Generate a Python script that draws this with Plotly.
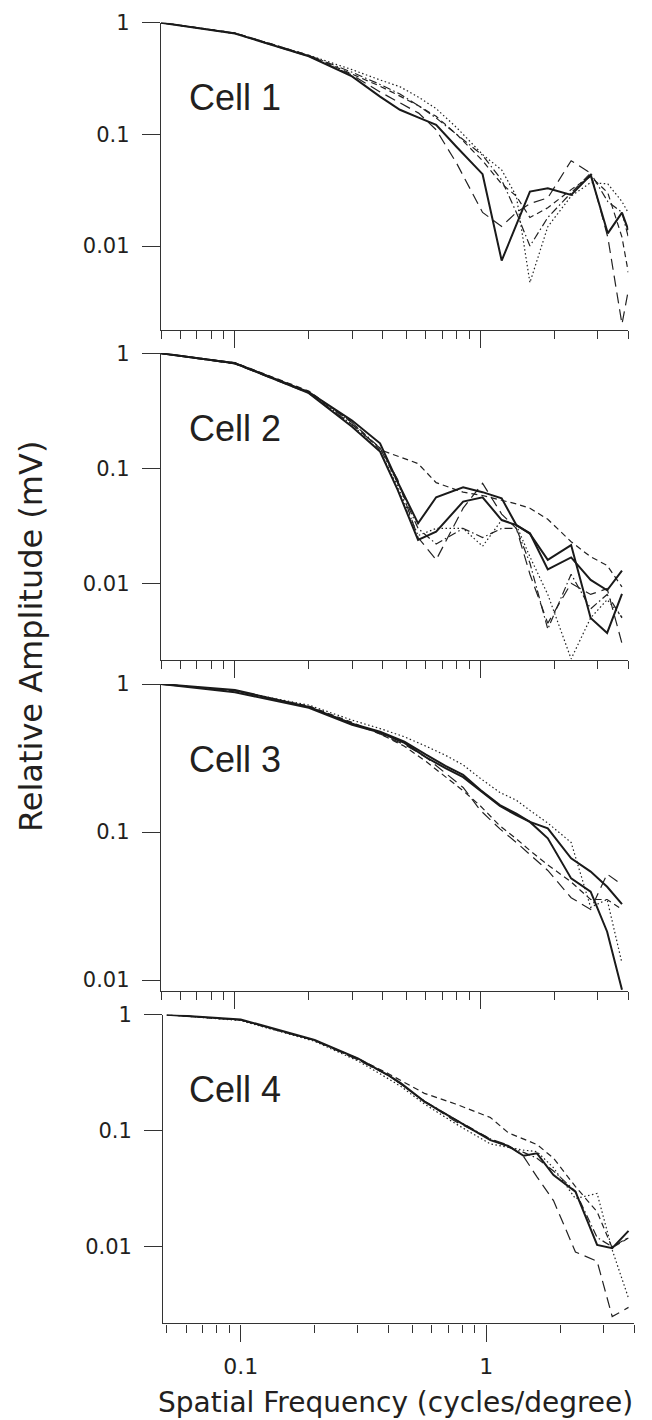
import plotly.graph_objects as go

# ---------------- data ----------------
# Spatial frequencies (cycles/degree) for each cell
freq_cell1 = [0.05, 0.1, 0.2, 0.3, 0.39, 0.47, 0.56, 0.66, 0.8, 1.02, 1.22, 1.4, 1.59, 1.88, 2.34, 2.81, 3.3, 3.77, 4.0]
freq_cell2 = [0.05, 0.1, 0.2, 0.3, 0.39, 0.46, 0.557, 0.66, 0.85, 1.02, 1.22, 1.4, 1.59, 1.88, 2.34, 2.81, 3.28, 3.77]
freq_cell3 = [0.05, 0.1, 0.2, 0.3, 0.39, 0.49, 0.6, 0.72, 0.85, 1.0, 1.2, 1.4, 1.59, 1.88, 2.34, 2.81, 3.28, 3.77]
freq_cell4 = [0.05, 0.1, 0.2, 0.3, 0.4, 0.45, 0.56, 0.75, 1.04, 1.23, 1.42, 1.61, 1.88, 2.31, 2.83, 3.26, 3.8]

# Cell 1 relative amplitudes
c1_solid    = [1, 0.80, 0.50, 0.33, 0.218, 0.166, 0.141, 0.122, 0.077, 0.044, 0.0074, 0.0155, 0.0307, 0.0329, 0.0287, 0.0433, 0.013, 0.0199, 0.0139]
c1_dot      = [1, 0.80, 0.51, 0.38, 0.307, 0.267, 0.215, 0.17, 0.115, 0.066, 0.048, 0.028, 0.0047, 0.0149, 0.028, 0.037, 0.036, 0.025, 0.0198]
c1_longdash = [1, 0.80, 0.50, 0.34, 0.24, 0.19, 0.155, 0.11, 0.055, 0.02, 0.015, 0.02, 0.024, 0.027, 0.058, 0.045, 0.012, 0.002, 0.004]
c1_dash     = [1, 0.81, 0.51, 0.35, 0.27, 0.22, 0.18, 0.145, 0.1, 0.058, 0.036, 0.028, 0.018, 0.022, 0.032, 0.042, 0.03, 0.012, 0.0058]
c1_dashdot  = [1, 0.81, 0.51, 0.36, 0.28, 0.23, 0.18, 0.14, 0.1, 0.065, 0.039, 0.02, 0.01, 0.018, 0.03, 0.045, 0.025, 0.02, 0.012]

# Cell 2
c2_solid_a  = [1, 0.82, 0.46, 0.26, 0.165, 0.076, 0.0332, 0.056, 0.0684, 0.062, 0.0548, 0.0321, 0.0272, 0.0132, 0.0168, 0.0107, 0.0087, 0.0129]
c2_solid_b  = [1, 0.82, 0.45, 0.23, 0.14, 0.065, 0.0238, 0.0281, 0.0513, 0.056, 0.0355, 0.0321, 0.027, 0.016, 0.0215, 0.005, 0.0037, 0.0081]
c2_dot      = [1, 0.82, 0.46, 0.24, 0.14, 0.07, 0.026, 0.030, 0.030, 0.021, 0.0355, 0.032, 0.017, 0.008, 0.0022, 0.005, 0.0072, 0.0051]
c2_dash     = [1, 0.83, 0.47, 0.25, 0.145, 0.128, 0.11, 0.075, 0.062, 0.058, 0.053, 0.049, 0.045, 0.036, 0.023, 0.017, 0.0143, 0.0093]
c2_longdash = [1, 0.81, 0.45, 0.24, 0.15, 0.08, 0.025, 0.016, 0.045, 0.074, 0.04, 0.03, 0.012, 0.0045, 0.01, 0.008, 0.009, 0.003]
c2_dashdot  = [1, 0.82, 0.46, 0.25, 0.15, 0.075, 0.03, 0.022, 0.03, 0.025, 0.03, 0.03, 0.015, 0.004, 0.012, 0.006, 0.008, 0.005]

# Cell 3
c3_solid_a  = [1, 0.91, 0.70, 0.54, 0.476, 0.408, 0.333, 0.28, 0.243, 0.192, 0.152, 0.133, 0.117, 0.106, 0.0664, 0.054, 0.0427, 0.0326]
c3_solid_b  = [1, 0.88, 0.69, 0.53, 0.47, 0.40, 0.32, 0.27, 0.235, 0.19, 0.15, 0.13, 0.117, 0.0906, 0.0486, 0.0395, 0.0212, 0.0086]
c3_dot      = [1, 0.90, 0.72, 0.57, 0.50, 0.44, 0.38, 0.33, 0.284, 0.23, 0.185, 0.164, 0.14, 0.115, 0.085, 0.031, 0.035, 0.013]
c3_dash     = [1, 0.90, 0.71, 0.55, 0.46, 0.38, 0.30, 0.237, 0.19, 0.15, 0.11, 0.09, 0.075, 0.06, 0.046, 0.035, 0.035, 0.03]
c3_longdash = [1, 0.90, 0.70, 0.54, 0.46, 0.39, 0.32, 0.25, 0.20, 0.14, 0.105, 0.085, 0.07, 0.055, 0.036, 0.03, 0.052, 0.044]

# Cell 4
c4_solid    = [1, 0.91, 0.605, 0.42, 0.30, 0.256, 0.178, 0.125, 0.083, 0.0738, 0.0608, 0.0638, 0.0415, 0.0298, 0.01035, 0.0097, 0.0137]
c4_dot      = [1, 0.89, 0.59, 0.40, 0.28, 0.24, 0.17, 0.115, 0.077, 0.072, 0.068, 0.066, 0.048, 0.026, 0.0288, 0.0094, 0.0036]
c4_dash     = [1, 0.90, 0.60, 0.42, 0.31, 0.27, 0.21, 0.17, 0.13, 0.096, 0.085, 0.076, 0.058, 0.033, 0.02, 0.0098, 0.0119]
c4_longdash = [1, 0.90, 0.60, 0.41, 0.30, 0.25, 0.18, 0.12, 0.085, 0.075, 0.06, 0.04, 0.025, 0.009, 0.0075, 0.0025, 0.003]
c4_dashdot  = [1, 0.90, 0.60, 0.41, 0.30, 0.25, 0.18, 0.125, 0.085, 0.072, 0.065, 0.058, 0.045, 0.03, 0.012, 0.01, 0.012]

cell_names = ["Cell 1", "Cell 2", "Cell 3", "Cell 4"]
x_major = [0.1, 1]
x_major_text = ["0.1", "1"]
x_minor = [0.05, 0.06, 0.07, 0.08, 0.09, 0.2, 0.3, 0.4, 0.5, 0.6, 0.7, 0.8, 0.9, 2, 3, 4]
y_ticks = [1, 0.1, 0.01]
y_tick_text = ["1", "0.1", "0.01"]

# ---------------- styling ----------------
W, H = 652, 1420
OFF = 8  # page body margin: shift figure coordinates so the photographed page lines up
INK = "#231f20"
AX = "#333333"
WIDE_FONT = "DejaVu Sans, Liberation Sans, Arial, sans-serif"
LABEL_FONT = "Liberation Sans, Arial, Helvetica, sans-serif"
STY = {
    "solid":    dict(color="#1a1a1a", width=2.0, dash="solid"),
    "dot":      dict(color="#222222", width=1.2, dash="1.5px,2.5px"),
    "dash":     dict(color="#222222", width=1.2, dash="6px,4px"),
    "longdash": dict(color="#222222", width=1.2, dash="11px,6px"),
    "dashdot":  dict(color="#222222", width=1.2, dash="8px,3px,1.5px,3px"),
}


def px(x):
    return (x - OFF) / W


def py(y):
    return 1 - (y - OFF) / H


panels = [
    dict(freq=freq_cell1, series=[("dot", c1_dot), ("dash", c1_dash), ("dashdot", c1_dashdot),
                                  ("longdash", c1_longdash), ("solid", c1_solid)],
         x0=161, x1=628.3, xr=[-1.30103, 0.60206], top=22.7, bot=330, yr=[-2.752, 0]),
    dict(freq=freq_cell2, series=[("dot", c2_dot), ("dash", c2_dash), ("dashdot", c2_dashdot),
                                  ("longdash", c2_longdash), ("solid", c2_solid_a), ("solid", c2_solid_b)],
         x0=161, x1=628.3, xr=[-1.30103, 0.60206], top=353.3, bot=660, yr=[-2.667, 0]),
    dict(freq=freq_cell3, series=[("dot", c3_dot), ("dash", c3_dash), ("longdash", c3_longdash),
                                  ("solid", c3_solid_a), ("solid", c3_solid_b)],
         x0=161, x1=628.3, xr=[-1.30103, 0.60206], top=684, bot=990.7, yr=[-2.072, 0]),
    dict(freq=freq_cell4, series=[("dot", c4_dot), ("dash", c4_dash), ("dashdot", c4_dashdot),
                                  ("longdash", c4_longdash), ("solid", c4_solid)],
         x0=163.3, x1=634, xr=[-1.3153, 0.60206], top=1014.7, bot=1323.3, yr=[-2.66, 0]),
]

fig = go.Figure()
layout = dict(width=W, height=H, margin=dict(l=0, r=0, t=0, b=0),
              paper_bgcolor="white", plot_bgcolor="white", showlegend=False,
              font=dict(family=WIDE_FONT, color=INK))
annotations = []

for i, p in enumerate(panels):
    k = "" if i == 0 else str(i + 1)
    for style, vals in p["series"]:
        fig.add_trace(go.Scatter(x=p["freq"], y=vals, mode="lines", line=STY[style],
                                 xaxis="x" + k, yaxis="y" + k, hoverinfo="skip"))
    last = (i == 3)
    layout["xaxis" + k] = dict(
        type="log", range=p["xr"], domain=[px(p["x0"]), px(p["x1"])], anchor="y" + k,
        automargin=False,
        showline=True, linecolor=AX, linewidth=1.4, showgrid=False, zeroline=False,
        ticks="outside", ticklen=17, tickwidth=1.3, tickcolor=AX,
        tickmode="array", tickvals=x_major, ticktext=x_major_text,
        showticklabels=last, tickfont=dict(family=WIDE_FONT, size=22, color=INK), ticklabelstandoff=6,
        minor=dict(tickmode="array", tickvals=x_minor, ticks="outside", ticklen=8,
                   tickwidth=1.3, tickcolor=AX, showgrid=False),
    )
    layout["yaxis" + k] = dict(
        type="log", range=p["yr"], domain=[py(p["bot"]), py(p["top"])], anchor="x" + k,
        automargin=False,
        showline=True, linecolor=AX, linewidth=1.4, showgrid=False, zeroline=False,
        ticks="outside", ticklen=18, tickwidth=1.3, tickcolor=AX,
        tickmode="array", tickvals=y_ticks, ticktext=y_tick_text,
        tickfont=dict(family=WIDE_FONT, size=21, color=INK), ticklabelstandoff=8,
    )
    annotations.append(dict(text=cell_names[i], xref="paper", yref="paper",
                            x=px(187), y=py(p["top"] + 75), xanchor="left", yanchor="middle",
                            showarrow=False, font=dict(family=LABEL_FONT, size=36, color=INK)))

annotations.append(dict(text="Spatial Frequency (cycles/degree)", xref="paper", yref="paper",
                        x=px(395), y=py(1402), xanchor="center", yanchor="middle",
                        showarrow=False, font=dict(family=WIDE_FONT, size=28, color=INK)))
annotations.append(dict(text="Relative Amplitude (mV)", xref="paper", yref="paper",
                        x=px(31), y=py(637), xanchor="center", yanchor="middle", textangle=-90,
                        showarrow=False, font=dict(family=WIDE_FONT, size=32, color=INK)))
layout["annotations"] = annotations
fig.update_layout(**layout)
fig.write_html("out.html")
